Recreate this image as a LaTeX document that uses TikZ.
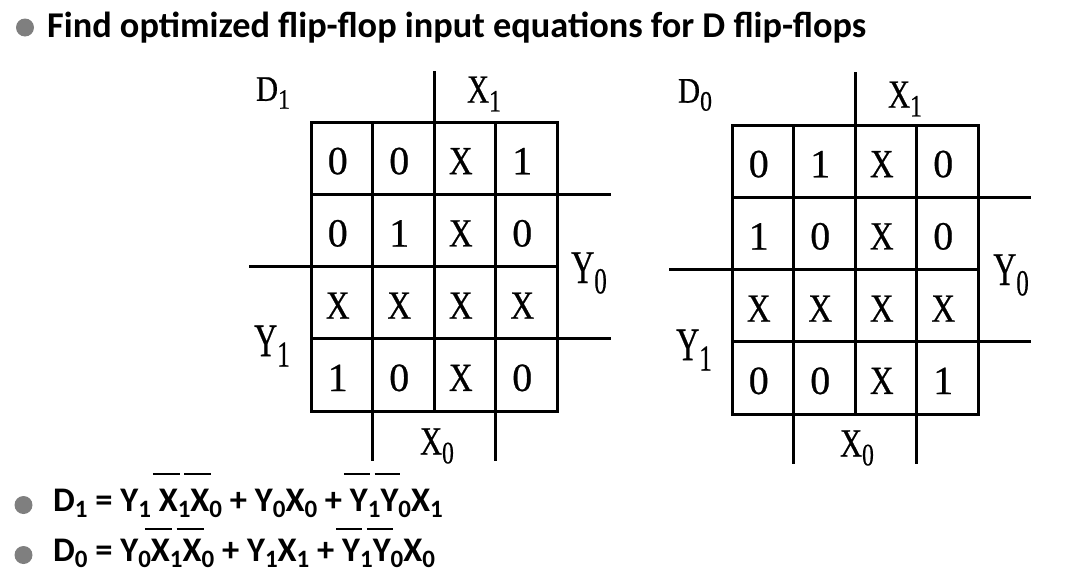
\documentclass[tikz,border=0pt]{standalone}
\usepackage{fontspec}
\setmainfont{Carlito}
\newfontfamily\kfont[FakeBold=0.6]{Liberation Serif}
\definecolor{bulletgray}{RGB}{127,127,127}
\newcommand\sbs[1]{\raisebox{-6pt}{\fontsize{25}{25}\selectfont#1}}
\newcommand\nb[2][37pt]{\setbox0\hbox{#2}\rlap{\hskip-6pt\raisebox{#1}{\rule{\dimexpr\wd0+8pt\relax}{1.7pt}}}\box0}
\newcommand\cx{\scalebox{0.82}[1]{X}}
\newcommand\klab[3]{\scalebox{#1}[1]{#2\raisebox{-0.22em}{\scalebox{0.78}{#3}}}}
\tikzset{
    kline/.style ={line width=3pt, line cap=rect},
    kcell/.style ={font=\kfont\fontsize{40}{40}\selectfont, inner sep=0pt},
    kD/.style ={font=\kfont\fontsize{36}{36}\selectfont, inner sep=0pt},
    kX/.style ={font=\kfont\fontsize{40}{40}\selectfont, inner sep=0pt},
    kY/.style ={font=\kfont\fontsize{47}{47}\selectfont, inner sep=0pt},
    eq/.style ={font=\fontsize{34.5}{40}\selectfont\bfseries, inner sep=0pt, anchor=base west},
    dot/.style ={circle, fill=bulletgray, minimum size=18pt, inner sep=0pt}}
\begin{document}
\begin{tikzpicture}[x=1pt,y=-1pt]
    \useasboundingbox (0,0) rectangle (1080,584);
    % heading
    \node[dot] (b0) at (25,27.5) {};
    \node[eq, font=\fontsize{36.3}{40}\selectfont\bfseries] (title) at (47,37.3) {Find optimized flip-flop input equations for D flip-flops};
    % map for D1
    \begin{scope}[shift={(311,122)}]
        \foreach \i in {0,...,4} \draw[kline] (\i*61.5,0) -- (\i*61.5,289);
        \foreach \j in {0,...,4} \draw[kline] (0,\j*72.25) -- (246,\j*72.25);
        \draw[kline] (123,0) -- ++(0,-50);
        \draw[kline] (246,72.25) -- ++(52,0);
        \draw[kline] (246,216.75) -- ++(52,0);
        \draw[kline] (0,144.5) -- ++(-61,0);
        \draw[kline] (61.5,289) -- ++(0,48);
        \draw[kline] (184.5,289) -- ++(0,48);
        \foreach \row [count=\r] in {{0,0,\cx,1},{0,1,\cx,0},{\cx,\cx,\cx,\cx},{1,0,\cx,0}}
            \foreach \v [count=\c] in \row
                \node[kcell] (d1-\r-\c) at ({(\c-0.5)*61.5-4},{(\r-0.5)*72.25+3}) {\v};
        \node[kD] (d1name) at (-38,-29) {\klab{0.85}{D}{1}};
        \node[kX] (d1x1) at (173,-28) {\klab{0.76}{X}{1}};
        \node[kY] (d1y0) at (278,151) {\klab{0.68}{Y}{0}};
        \node[kY] (d1y1) at (-39,224) {\klab{0.68}{Y}{1}};
        \node[kX] (d1x0) at (126,324) {\klab{0.76}{X}{0}};
    \end{scope}
    % map for D0
    \begin{scope}[shift={(732,125)}]
        \foreach \i in {0,...,4} \draw[kline] (\i*61.5,0) -- (\i*61.5,289);
        \foreach \j in {0,...,4} \draw[kline] (0,\j*72.25) -- (246,\j*72.25);
        \draw[kline] (123,0) -- ++(0,-52);
        \draw[kline] (246,72.25) -- ++(51,0);
        \draw[kline] (246,216.75) -- ++(51,0);
        \draw[kline] (0,144.5) -- ++(-62,0);
        \draw[kline] (61.5,289) -- ++(0,48);
        \draw[kline] (184.5,289) -- ++(0,48);
        \foreach \row [count=\r] in {{0,1,\cx,0},{1,0,\cx,0},{\cx,\cx,\cx,\cx},{0,0,\cx,1}}
            \foreach \v [count=\c] in \row
                \node[kcell] (d0-\r-\c) at ({(\c-0.5)*61.5-4},{(\r-0.5)*72.25+3}) {\v};
        \node[kD] (d0name) at (-37,-30) {\klab{0.85}{D}{0}};
        \node[kX] (d0x1) at (173,-26) {\klab{0.76}{X}{1}};
        \node[kY] (d0y0) at (279,150) {\klab{0.68}{Y}{0}};
        \node[kY] (d0y1) at (-38,225) {\klab{0.68}{Y}{1}};
        \node[kX] (d0x0) at (125,323) {\klab{0.76}{X}{0}};
    \end{scope}
    % equations
    \node[dot] (b1) at (23.5,505) {};
    \node[eq] (eq1) at (53,511.7) {D\sbs1 = Y\sbs1 \nb{X}\sbs1\nb{X}\sbs0 + Y\sbs0X\sbs0 + \nb{Y}\sbs1\nb{Y}\sbs0X\sbs1};
    \node[dot] (b2) at (23.5,555) {};
    \node[eq] (eq2) at (53,561.7) {D\sbs0 = Y\sbs0\nb[32pt]{X}\sbs1\nb[32pt]{X}\sbs0 + Y\sbs1X\sbs1 + \nb[32pt]{Y}\sbs1\nb[32pt]{Y}\sbs0X\sbs0};
\end{tikzpicture}
\end{document}
